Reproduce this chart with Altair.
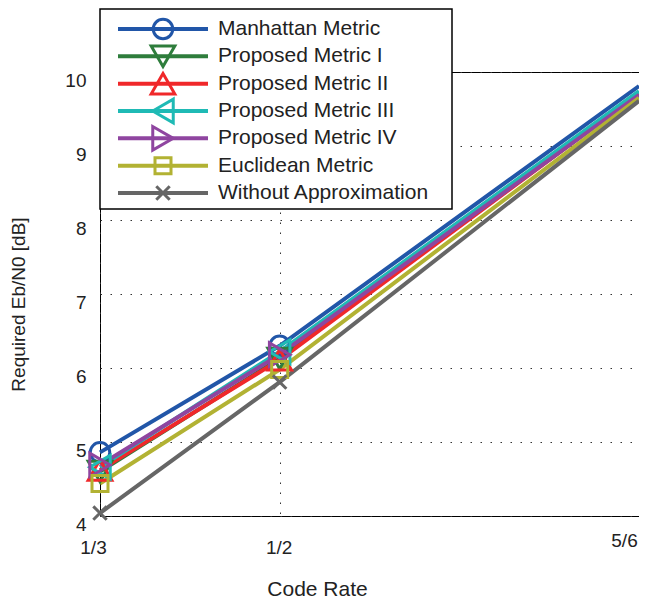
import altair as alt
import pandas as pd

# ---------------- data ----------------
code_rates = [1/3, 1/2, 5/6]
x_tick_labels = ["1/3", "1/2", "5/6"]
y_ticks = [4, 5, 6, 7, 8, 9, 10]

series_names = [
    "Manhattan Metric",
    "Proposed Metric I",
    "Proposed Metric II",
    "Proposed Metric III",
    "Proposed Metric IV",
    "Euclidean Metric",
    "Without Approximation",
]
manhattan = [4.86, 6.30, 9.81]
proposed_1 = [4.60, 6.13, 9.72]
proposed_2 = [4.62, 6.11, 9.71]
proposed_3 = [4.66, 6.22, 9.74]
proposed_4 = [4.69, 6.18, 9.69]
euclidean = [4.44, 5.98, 9.65]
without_approx = [4.04, 5.81, 9.61]

colors = ["#2156a8", "#2e7d3c", "#f0282a", "#1fbab5", "#8f45a0", "#b2b233", "#666666"]
shapes = ["circle", "triangle-down", "triangle-up", "triangle-left",
          "triangle-right", "square", "M-1,-1L1,1M1,-1L-1,1"]
sizes = [380, 560, 560, 560, 560, 256, 180]

all_values = [manhattan, proposed_1, proposed_2, proposed_3, proposed_4, euclidean, without_approx]
rows = []
for i, (name, vals) in enumerate(zip(series_names, all_values)):
    for r, v in zip(code_rates, vals):
        rows.append({"name": name, "order": i, "rate": r, "value": v})
df = pd.DataFrame(rows)
df_leg = pd.DataFrame({"name": series_names})

FONT = "Liberation Sans"
TXT = "#222222"
GRID_DASH = [1.5, 8.5]

label_expr = " : ".join(
    f"datum.value < {(code_rates[i] + code_rates[i+1]) / 2} ? '{x_tick_labels[i]}'"
    for i in range(len(code_rates) - 1)
) + f" : '{x_tick_labels[-1]}'"

color_scale = alt.Scale(domain=series_names, range=colors)
shape_scale = alt.Scale(domain=series_names, range=shapes)
size_scale = alt.Scale(type="ordinal", domain=series_names, range=sizes)

x_enc = alt.X(
    "rate:Q",
    scale=alt.Scale(domain=[code_rates[0], code_rates[-1]], nice=False, zero=False),
    axis=alt.Axis(
        values=code_rates, labelExpr=label_expr, title="Code Rate",
        grid=True, gridDash=GRID_DASH, gridColor="#333333", gridWidth=1,
        domain=False, ticks=False, labelFlush=False,
        labelFontSize=19, labelBaseline="middle",
        labelPadding={"condition": {"test": "datum.value > 0.8", "value": 24}, "value": 31},
        labelOffset={"condition": [
            {"test": "datum.value < 0.4", "value": -7},
            {"test": "datum.value > 0.8", "value": -15}], "value": -1},
        titleFontSize=21, titleFontWeight="normal",
        titleX=217, titleY=73, titleAlign="center", titleBaseline="middle",
    ),
)
y_enc = alt.Y(
    "value:Q",
    scale=alt.Scale(domain=[y_ticks[0], y_ticks[-1]], nice=False, zero=False),
    axis=alt.Axis(
        values=y_ticks, format="d", title="Required Eb/N0 [dB]",
        grid=True, gridDash=GRID_DASH, gridColor="#333333", gridWidth=1,
        domain=False, ticks=False, labelFlush=False,
        labelFontSize=19, labelPadding=14, labelOffset=8,
        titleFontSize=19, titleFontWeight="normal", titleAngle=270,
        titleX=-82, titleY=232, titleAlign="center", titleBaseline="middle",
    ),
)

base = alt.Chart(df)
lines = base.mark_line(strokeWidth=4).encode(
    x=x_enc, y=y_enc,
    color=alt.Color("name:N", scale=color_scale, legend=None),
    order="order:Q",
)
points = base.transform_filter(f"datum.rate < {code_rates[-1] - 0.01}").mark_point(
    filled=False, strokeWidth=3, opacity=1
).encode(
    x="rate:Q", y="value:Q",
    color=alt.Color("name:N", scale=color_scale, legend=None),
    shape=alt.Shape("name:N", scale=shape_scale, legend=None),
    size=alt.Size("name:N", scale=size_scale, legend=None),
)
main = alt.layer(lines, points)

# ---------------- legend ----------------
leg_y = alt.Y("name:N", scale=alt.Scale(type="point", domain=series_names,
                                        range=[-43, 121], padding=0), axis=None)
leg_box = alt.Chart(pd.DataFrame({"k": [0]})).mark_rect(
    fill="white", stroke="black", strokeWidth=1.5
).encode(x=alt.value(0), x2=alt.value(352), y=alt.value(-63), y2=alt.value(137))
leg_lines = alt.Chart(df_leg).mark_rule(strokeWidth=4).encode(
    x=alt.value(18), x2=alt.value(108), y=leg_y,
    color=alt.Color("name:N", scale=color_scale, legend=None),
)
leg_pts = alt.Chart(df_leg).mark_point(filled=False, strokeWidth=3, opacity=1).encode(
    x=alt.value(63), y=leg_y,
    color=alt.Color("name:N", scale=color_scale, legend=None),
    shape=alt.Shape("name:N", scale=shape_scale, legend=None),
    size=alt.Size("name:N", scale=size_scale, legend=None),
)
leg_text = alt.Chart(df_leg).mark_text(
    align="left", baseline="middle", fontSize=21, font=FONT, color=TXT
).encode(x=alt.value(118), y=leg_y, text="name:N")
legend = alt.layer(leg_box, leg_lines, leg_pts, leg_text)

chart = alt.layer(main, legend).resolve_scale(y="independent").properties(
    width=539, height=444,
    padding={"left": 92, "top": 64, "right": 0, "bottom": 83},
    autosize="none", background="white",
).configure_view(
    stroke="black", strokeWidth=1
).configure_axis(
    labelFont=FONT, titleFont=FONT, labelColor=TXT, titleColor=TXT,
)

chart.save("out.html", embed_options={"renderer": "svg", "actions": False})
